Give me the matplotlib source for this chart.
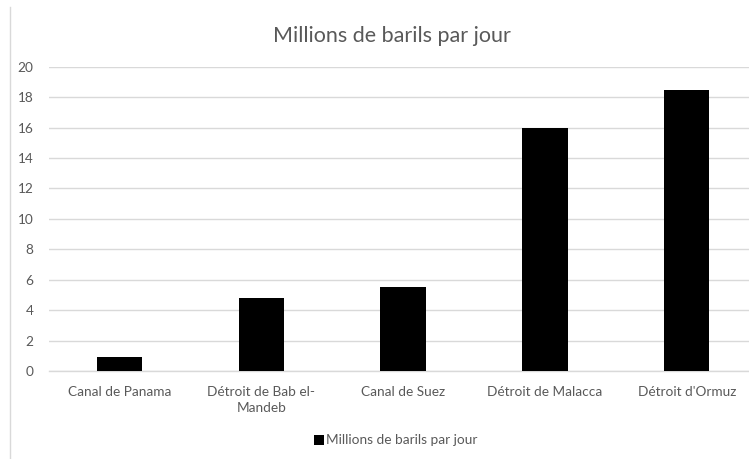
import matplotlib.pyplot as plt
from matplotlib.lines import Line2D

plt.rcParams['font.family'] = ['Lato', 'DejaVu Sans']

# Data
categories = ['Canal de Panama', 'Détroit de Bab el-\nMandeb', 'Canal de Suez',
              'Détroit de Malacca', "Détroit d'Ormuz"]
values = [0.9, 4.8, 5.5, 16.0, 18.5]
series_name = 'Millions de barils par jour'
y_ticks = [0, 2, 4, 6, 8, 10, 12, 14, 16, 18, 20]

W, H = 749, 459
fig = plt.figure(figsize=(W / 100, H / 100), dpi=100)

# plot area in pixels: left 48.6, y0 at 371, y20 at 66.7
left, bottom, top = 48.6, 371.0, 66.7
right = 749.0
ax = fig.add_axes([left / W, 1 - bottom / H, (right - left) / W, (bottom - top) / H])

x = range(len(categories))
bars = ax.bar(x, values, width=0.32, color='black', label=series_name, zorder=3)

cat_w = 141.8
ax.set_xlim(-0.5, -0.5 + (right - left) / cat_w)
ax.set_ylim(0, 20)
ax.set_yticks(y_ticks)
ax.set_xticks(list(x))
ax.set_xticklabels(categories, linespacing=1.4)

ax.yaxis.grid(True, color='#d9d9d9', linewidth=1, zorder=0)
for s in ['top', 'right', 'left']:
    ax.spines[s].set_visible(False)
ax.spines['bottom'].set_color('#d9d9d9')
ax.spines['bottom'].set_linewidth(1)

ax.tick_params(axis='both', length=0, labelsize=9.8, labelcolor='#595959')
ax.tick_params(axis='y', pad=11)
ax.tick_params(axis='x', pad=10.5)

fig.text(392 / W, 1 - 36 / H, series_name, ha='center', va='center',
         fontsize=15.5, color='#595959')

leg = fig.legend(handles=[bars], labels=[series_name], loc='center',
                 bbox_to_anchor=(396 / W, 1 - 440.5 / H), frameon=False,
                 fontsize=9.8, handlelength=0.7, handleheight=0.7, handletextpad=0.2)
for t in leg.get_texts():
    t.set_color('#595959')

# chart frame line on the left
fig.add_artist(Line2D([9.5 / W, 9.5 / W], [0, 1 - 7 / H], color='#d9d9d9', linewidth=1))

fig.savefig('out.png', dpi=100)
